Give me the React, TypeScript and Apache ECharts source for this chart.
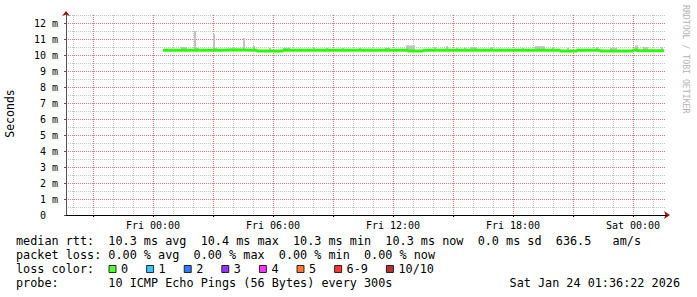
import React, { useEffect, useRef } from 'react';
import * as echarts from 'echarts';

// x values are hours relative to Fri 00:00
const X_MIN = -4.35;
const X_MAX = 25.65;
const Y_MAX = 12.5;

const xTickHours = [0, 6, 12, 18, 24];
const xTickLabels = ['Fri 00:00', 'Fri 06:00', 'Fri 12:00', 'Fri 18:00', 'Sat 00:00'];
const xMajorGridHours = [-3, 0, 3, 6, 9, 12, 15, 18, 21, 24];
const xMinorGridHours = [-4, -2, -1, 1, 2, 4, 5, 7, 8, 10, 11, 13, 14, 16, 17, 19, 20, 22, 23, 25];

const yTickValues = [0, 1, 2, 3, 4, 5, 6, 7, 8, 9, 10, 11, 12];
const yMajorGrid = [1, 2, 3, 4, 5, 6, 7, 8, 9, 10, 11, 12];
const yMinorGrid = [0.5, 1.5, 2.5, 3.5, 4.5, 5.5, 6.5, 7.5, 8.5, 9.5, 10.5, 11.5, 12.5];

// median rtt (ms), step segments starting at given hour
const medianHours = [0.5, 3.6, 3.95, 5.2, 6.5, 12.75, 13.5, 20.35, 21.2, 22.35, 24.0, 24.2, 25.55];
const medianValues = [10.3, 10.33, 10.3, 10.25, 10.3, 10.25, 10.3, 10.25, 10.3, 10.25, 10.32, 10.27, 10.27];

// smoke (visible part above median)
const SMOKE_BASE = 10.3;
const smokeStartH = [1.4, 2.05, 2.15, 3.0, 3.1, 4.5, 5.0, 5.8, 6.5, 8.0, 8.65, 9.45, 10.3, 11.6, 12.65, 14.05, 14.65, 15.15, 15.55, 15.85, 16.85, 18.45, 19.1, 19.95, 20.7, 22.15, 22.85, 24.1, 24.5, 25.4];
const smokeEndH = [1.7, 2.15, 2.3, 3.1, 3.2, 4.6, 5.1, 5.9, 6.85, 8.1, 8.75, 9.55, 10.4, 11.85, 13.1, 14.15, 14.75, 15.25, 15.65, 16.2, 17.0, 18.55, 19.6, 20.05, 20.8, 22.25, 23.2, 24.25, 24.75, 25.5];
const smokeTopMs = [10.5, 11.5, 10.45, 11.31, 10.45, 11.06, 10.56, 10.45, 10.45, 10.45, 10.45, 10.45, 10.45, 10.45, 10.6, 10.5, 10.56, 10.45, 10.45, 10.5, 10.5, 10.45, 10.55, 10.45, 10.45, 10.5, 10.45, 10.6, 10.5, 10.5];

const lossLabels = ['0', '1', '2', '3', '4', '5', '6-9', '10/10'];
const lossColors = ['#26ff00', '#00b8ff', '#0059ff', '#7e00ff', '#ff00ff', '#ff5500', '#ff0000', '#a10000'];

const line1 = 'median rtt:  10.3 ms avg  10.4 ms max  10.3 ms min  10.3 ms now  0.0 ms sd  636.5   am/s';
const line2 = 'packet loss: 0.00 % avg  0.00 % max  0.00 % min  0.00 % now';
const line3 = 'loss color:';
const line4 = 'probe:       10 ICMP Echo Pings (56 Bytes) every 300s';
const stamp = 'Sat Jan 24 01:36:22 2026';
const watermark = 'RRDTOOL / TOBI OETIKER';

const MONO = '"DejaVu Sans Mono", monospace';
const MAJOR = '#e07a7a';
const MINOR = '#c4c4c4';
const ARROW = '#9a1010';

export default function App() {
  const ref = useRef<HTMLDivElement>(null);
  useEffect(() => {
    if (!ref.current) return;
    const chart = echarts.init(ref.current, null, { renderer: 'svg' });
    const vGrid = [
      ...xMajorGridHours.map((h) => [h, 1]),
      ...xMinorGridHours.map((h) => [h, 0]),
    ];
    const hGrid = [
      ...yMajorGrid.map((v) => [v, 1]),
      ...yMinorGrid.map((v) => [v, 0]),
    ];
    const textStyleBase = { fontFamily: MONO, fontSize: 11.8, fill: '#000', verticalAlign: 'middle' };
    const option: any = {
      animation: false,
      backgroundColor: '#ffffff',
      grid: { left: 66, top: 15, width: 600, height: 200, containLabel: false, outerBoundsMode: 'none' },
      xAxis: [
        {
          type: 'value', min: X_MIN, max: X_MAX, position: 'bottom', z: 2,
          axisLine: { show: true, onZero: false, lineStyle: { color: '#000', width: 1 } },
          axisTick: { show: true, customValues: xMajorGridHours, length: 2, lineStyle: { color: '#000' } },
          axisLabel: {
            show: true, customValues: xTickHours, margin: 5,
            fontFamily: MONO, fontSize: 10, color: '#000',
            formatter: (v: number) => {
              const i = xTickHours.findIndex((h) => Math.abs(h - v) < 1e-6);
              return i >= 0 ? xTickLabels[i] : '';
            },
          },
          splitLine: { show: false },
        },
        {
          type: 'value', min: X_MIN, max: X_MAX, position: 'bottom', z: 1,
          axisLine: { show: true, onZero: false, symbol: ['none', 'arrow'], symbolSize: [6, 6], symbolOffset: [0, 4], lineStyle: { color: ARROW } },
          axisTick: { show: false }, axisLabel: { show: false }, splitLine: { show: false },
        },
      ],
      yAxis: [
        {
          type: 'value', min: 0, max: Y_MAX, position: 'left', z: 2,
          axisLine: { show: true, onZero: false, lineStyle: { color: '#555', width: 1 } },
          axisTick: { show: true, customValues: yTickValues, length: 2, lineStyle: { color: '#555' } },
          axisLabel: {
            customValues: yTickValues, margin: 8, fontFamily: MONO, fontSize: 10, color: '#000',
            formatter: (v: number) => (v === 0 ? '{z|0}' : `${v} m`),
            rich: { z: { width: 18, align: 'left', fontFamily: MONO, fontSize: 10, color: '#000' } },
          },
          splitLine: { show: false },
        },
        {
          type: 'value', min: 0, max: Y_MAX, position: 'left', z: 1,
          axisLine: { show: true, onZero: false, symbol: ['none', 'arrow'], symbolSize: [6, 5], symbolOffset: [0, 4], lineStyle: { color: ARROW } },
          axisTick: { show: false }, axisLabel: { show: false }, splitLine: { show: false },
        },
      ],
      legend: {
        left: 108.5, top: 262, padding: 0, itemWidth: 7, itemHeight: 7, itemGap: 18,
        icon: 'rect', selectedMode: false,
        itemStyle: { borderColor: '#000', borderWidth: 1 },
        textStyle: { fontFamily: MONO, fontSize: 11.8, color: '#000', lineHeight: 14 },
        data: lossLabels,
      },
      graphic: [
        { type: 'text', x: 10, y: 113.5, rotation: Math.PI / 2, style: { text: 'Seconds', fontFamily: MONO, fontSize: 11.5, fill: '#000', align: 'center', verticalAlign: 'middle' } },
        { type: 'text', x: 686, y: 5, rotation: -Math.PI / 2, style: { text: watermark, fontFamily: MONO, fontSize: 8.2, fill: '#b4b4b4', align: 'left', verticalAlign: 'middle' } },
        { type: 'text', x: 16, y: 241, style: { ...textStyleBase, text: line1 } },
        { type: 'text', x: 16, y: 255, style: { ...textStyleBase, text: line2 } },
        { type: 'text', x: 16, y: 269, style: { ...textStyleBase, text: line3 } },
        { type: 'text', x: 16, y: 283, style: { ...textStyleBase, text: line4 } },
        { type: 'text', x: 680, y: 283, style: { ...textStyleBase, text: stamp, align: 'right' } },
      ],
      series: [
        {
          type: 'custom', name: 'vgrid', z: 1, silent: true, clip: false,
          data: vGrid,
          renderItem: (_p: any, api: any) => {
            const x = Math.round(api.coord([api.value(0), 0])[0]) + 0.5;
            const top = api.coord([0, Y_MAX])[1];
            const bottom = api.coord([0, 0])[1];
            return {
              type: 'line', shape: { x1: x, y1: top, x2: x, y2: bottom },
              style: { stroke: api.value(1) ? MAJOR : MINOR, lineWidth: 1, lineDash: [1, 1] },
            };
          },
        },
        {
          type: 'custom', name: 'hgrid', z: 1, silent: true, clip: false,
          data: hGrid,
          renderItem: (_p: any, api: any) => {
            const y = Math.round(api.coord([0, api.value(0)])[1]) + 0.5;
            const left = api.coord([X_MIN, 0])[0];
            const right = api.coord([X_MAX, 0])[0];
            return {
              type: 'line', shape: { x1: left, y1: y, x2: right, y2: y },
              style: { stroke: api.value(1) ? MAJOR : MINOR, lineWidth: 1, lineDash: [1, 1] },
            };
          },
        },
        {
          type: 'custom', name: 'smoke', z: 2, silent: true,
          data: smokeStartH.map((s, i) => [s, smokeEndH[i], smokeTopMs[i]]),
          renderItem: (_p: any, api: any) => {
            const p1 = api.coord([api.value(0), api.value(2)]);
            const p2 = api.coord([api.value(1), SMOKE_BASE]);
            return {
              type: 'rect',
              shape: { x: p1[0], y: p1[1], width: Math.max(p2[0] - p1[0], 1.5), height: p2[1] - p1[1] },
              style: { fill: '#c2c2c2' },
            };
          },
        },
        {
          type: 'line', name: 'median', step: 'end', z: 4, silent: true,
          data: medianHours.map((h, i) => [h, medianValues[i]]),
          symbol: 'none', lineStyle: { color: '#26ff00', width: 3 },
        },
        ...lossLabels.map((name, i) => ({
          type: 'scatter', name, data: [], itemStyle: { color: lossColors[i] },
        })),
      ],
    };
    chart.setOption(option);
    return () => chart.dispose();
  }, []);
  return <div ref={ref} style={{ position: 'fixed', left: 0, top: 0, width: 697, height: 297 }} />;
}
